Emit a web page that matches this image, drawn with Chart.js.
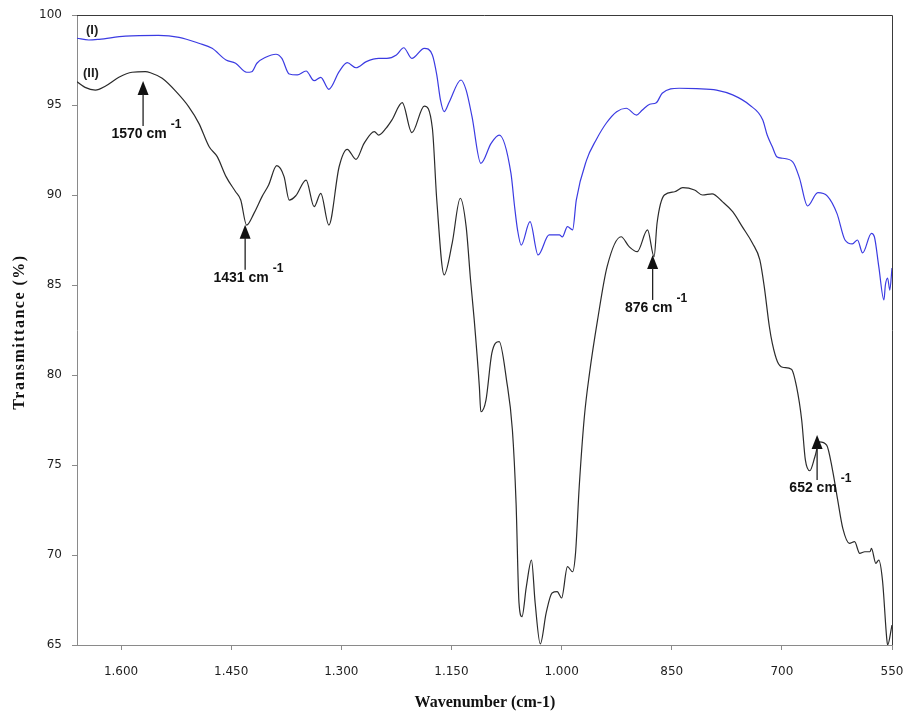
<!DOCTYPE html>
<html>
<head>
<meta charset="utf-8">
<script src="https://cdn.jsdelivr.net/npm/chart.js@4/dist/chart.umd.min.js"></script>
<style>
  html, body { margin: 0; padding: 0; background: #ffffff; }
  #wrap { width: 906px; height: 715px; }
</style>
</head>
<body>
<div id="wrap"><canvas id="ir" width="906" height="715"></canvas></div>
<script>
// FTIR spectra, wavenumber (cm-1) vs transmittance (%)
const wavenumberI = [1660, 1644, 1630, 1594, 1549, 1521, 1494, 1476, 1457, 1444, 1429, 1422, 1415, 1403, 1389, 1381, 1371, 1360, 1348, 1337, 1328, 1317, 1303, 1292, 1280, 1266, 1249, 1238, 1225, 1215, 1204, 1187, 1176, 1170, 1165, 1160, 1153, 1137, 1130, 1122, 1110, 1096, 1085, 1069, 1064, 1060, 1055, 1043, 1032, 1017, 1003, 999, 992, 985, 980, 966, 953, 939, 925, 912, 898, 890, 880, 871, 863, 840, 816, 789, 767, 744, 726, 720, 713, 707, 699, 685, 676, 665, 651, 638, 625, 614, 604, 597, 590, 578, 574, 568, 561, 559, 556, 553, 550];
const transmittanceI = [98.71, 98.61, 98.65, 98.83, 98.87, 98.76, 98.43, 98.15, 97.50, 97.32, 96.82, 96.85, 97.32, 97.65, 97.82, 97.59, 96.72, 96.67, 96.89, 96.35, 96.54, 95.87, 96.85, 97.35, 97.07, 97.41, 97.59, 97.59, 97.78, 98.18, 97.59, 98.15, 97.78, 96.67, 95.28, 94.63, 95.17, 96.39, 95.83, 94.35, 91.76, 92.87, 93.33, 91.21, 89.35, 88.06, 87.22, 88.52, 86.67, 87.78, 87.78, 87.67, 88.24, 88.06, 89.72, 91.94, 93.06, 94.00, 94.63, 94.82, 94.44, 94.72, 95.04, 95.13, 95.65, 95.93, 95.91, 95.83, 95.56, 95.00, 94.17, 93.33, 92.68, 92.13, 92.04, 91.83, 90.94, 89.39, 90.13, 89.94, 88.98, 87.50, 87.28, 87.50, 86.78, 87.87, 87.68, 86.02, 84.17, 85.00, 85.39, 84.72, 85.94];

const wavenumberII = [1660, 1649, 1635, 1621, 1603, 1585, 1567, 1560, 1544, 1525, 1508, 1494, 1480, 1469, 1457, 1444, 1437, 1429, 1419, 1408, 1399, 1388, 1378, 1371, 1362, 1348, 1337, 1328, 1317, 1303, 1292, 1280, 1269, 1255, 1249, 1239, 1231, 1217, 1204, 1187, 1176, 1170, 1160, 1149, 1138, 1130, 1124, 1119, 1112, 1110, 1103, 1095, 1085, 1075, 1067, 1062, 1058, 1054, 1048, 1041, 1036, 1029, 1021, 1013, 1006, 1000, 992, 985, 981, 976, 969, 962, 951, 938, 919, 908, 897, 883, 874, 870, 860, 846, 835, 819, 808, 795, 781, 767, 754, 740, 730, 724, 717, 713, 706, 699, 687, 680, 673, 668, 662, 655, 649, 639, 631, 624, 617, 608, 601, 594, 587, 580, 578, 572, 568, 563, 557, 556, 550];
const transmittanceII = [96.29, 95.98, 95.83, 96.06, 96.54, 96.82, 96.85, 96.79, 96.48, 95.74, 94.91, 93.98, 92.68, 92.13, 91.02, 90.18, 89.72, 88.33, 88.98, 89.91, 90.56, 91.63, 91.02, 89.72, 89.96, 90.83, 89.35, 90.09, 88.33, 91.57, 92.54, 91.98, 92.87, 93.52, 93.33, 93.71, 94.17, 95.13, 93.46, 94.94, 93.71, 89.72, 85.56, 87.33, 89.82, 88.24, 85.28, 83.06, 79.35, 77.96, 78.61, 81.21, 81.85, 79.72, 76.94, 72.89, 67.33, 66.57, 68.24, 69.72, 67.33, 65.06, 66.78, 67.89, 67.96, 67.61, 69.35, 69.07, 70.11, 73.79, 77.68, 80.09, 83.06, 86.02, 87.68, 87.13, 86.85, 88.06, 86.57, 88.43, 90.00, 90.18, 90.41, 90.28, 90.00, 90.06, 89.63, 89.07, 88.24, 87.32, 86.39, 84.91, 82.68, 81.76, 80.74, 80.43, 80.32, 79.35, 77.50, 75.28, 74.68, 75.46, 76.29, 76.11, 74.72, 73.06, 71.48, 70.65, 70.74, 70.09, 70.18, 70.18, 70.37, 69.54, 69.72, 68.61, 65.28, 65.00, 66.11];

const seriesNames = ['(I)', '(II)'];

// axis ticks (labels written with a dot as thousands separator)
const xTickValues = [1600, 1450, 1300, 1150, 1000, 850, 700, 550];
const xTickLabels = ['1.600', '1.450', '1.300', '1.150', '1.000', '850', '700', '550'];

// marked bands of spectrum (II): wavenumber and arrow-tip transmittance
const peakWavenumbers = [1570, 1431, 876, 652];
const peakArrowTips = [96.33, 88.35, 86.67, 76.67];

const toPoints = (xs, ys) => xs.map((x, i) => ({ x: x, y: ys[i] }));

const decorations = {
  id: 'decorations',
  afterDatasetsDraw(chart) {
    const ctx = chart.ctx;
    const area = chart.chartArea;
    const xs = chart.scales.x;
    const ys = chart.scales.y;
    ctx.save();

    // frame top and right
    ctx.strokeStyle = '#3a3a3a';
    ctx.lineWidth = 1;
    ctx.beginPath();
    ctx.moveTo(area.left, area.top + 0.5);
    ctx.lineTo(area.right + 0.5, area.top + 0.5);
    ctx.lineTo(area.right + 0.5, area.bottom);
    ctx.stroke();

    // series tags
    ctx.fillStyle = '#222';
    ctx.font = 'bold 13px "Liberation Sans", Arial, sans-serif';
    ctx.textAlign = 'left';
    ctx.textBaseline = 'middle';
    ctx.fillText(seriesNames[0], area.left + 9, 30);
    ctx.fillText(seriesNames[1], area.left + 6, 73);

    // band markers
    peakWavenumbers.forEach((wn, i) => {
      const px = xs.getPixelForValue(wn);
      const py = ys.getPixelForValue(peakArrowTips[i]);
      ctx.fillStyle = '#111';
      ctx.beginPath();
      ctx.moveTo(px, py);
      ctx.lineTo(px - 5.5, py + 14);
      ctx.lineTo(px + 5.5, py + 14);
      ctx.closePath();
      ctx.fill();
      ctx.strokeStyle = '#222';
      ctx.lineWidth = 1.3;
      ctx.beginPath();
      ctx.moveTo(px, py + 13);
      ctx.lineTo(px, py + 45);
      ctx.stroke();

      const label = wn + ' cm';
      ctx.font = 'bold 14px "Liberation Sans", Arial, sans-serif';
      ctx.textAlign = 'center';
      ctx.textBaseline = 'middle';
      const cx = px - 4, cy = py + 53;
      ctx.fillText(label, cx, cy);
      const w = ctx.measureText(label).width;
      ctx.font = 'bold 12px "Liberation Sans", Arial, sans-serif';
      ctx.textAlign = 'left';
      ctx.fillText('-1', cx + w / 2 + 4, cy - 9);
    });

    // axis titles
    ctx.fillStyle = '#111';
    ctx.font = 'bold 16px "Liberation Serif", "Times New Roman", serif';
    ctx.textAlign = 'center';
    ctx.textBaseline = 'middle';
    ctx.fillText('Wavenumber (cm-1)', 485, 703);
    ctx.save();
    ctx.translate(20, 332);
    ctx.rotate(-Math.PI / 2);
    ctx.letterSpacing = '1.5px';
    ctx.fillText('Transmittance (%)', 0, 0);
    ctx.restore();

    ctx.restore();
  }
};

new Chart(document.getElementById('ir'), {
  type: 'line',
  data: {
    datasets: [
      {
        label: seriesNames[0],
        data: toPoints(wavenumberI, transmittanceI),
        borderColor: '#3b3be2',
        borderWidth: 1.2,
        pointRadius: 0,
        cubicInterpolationMode: 'monotone',
        fill: false
      },
      {
        label: seriesNames[1],
        data: toPoints(wavenumberII, transmittanceII),
        borderColor: '#2b2b2b',
        borderWidth: 1.2,
        pointRadius: 0,
        cubicInterpolationMode: 'monotone',
        fill: false
      }
    ]
  },
  options: {
    responsive: false,
    animation: false,
    layout: { padding: { left: 0, top: 15, right: 14, bottom: 0 } },
    plugins: {
      legend: { display: false },
      tooltip: { enabled: false }
    },
    scales: {
      x: {
        type: 'linear',
        reverse: true,
        min: 550,
        max: 1660,
        afterBuildTicks(axis) {
          axis.ticks = xTickValues.map(v => ({ value: v }));
        },
        afterFit(axis) {
          axis.height = 70;
          axis.paddingLeft = 0;
          axis.paddingRight = 0;
        },
        ticks: {
          autoSkip: false,
          maxRotation: 0,
          padding: 15,
          color: '#1e1e1e',
          font: { family: '"DejaVu Sans", Verdana, sans-serif', size: 12 },
          callback(value) {
            const k = xTickValues.indexOf(value);
            return k >= 0 ? xTickLabels[k] : '';
          }
        },
        grid: { drawOnChartArea: false, tickLength: 5, color: '#8a8a8a' },
        border: { color: '#8a8a8a', width: 1 }
      },
      y: {
        min: 65,
        max: 100,
        afterFit(axis) {
          axis.width = 77;
          axis.paddingTop = 0;
          axis.paddingBottom = 0;
        },
        ticks: {
          stepSize: 5,
          padding: 10,
          color: '#1e1e1e',
          font: { family: '"DejaVu Sans", Verdana, sans-serif', size: 12 }
        },
        grid: { drawOnChartArea: false, tickLength: 5, color: '#8a8a8a' },
        border: { color: '#8a8a8a', width: 1 }
      }
    }
  },
  plugins: [decorations]
});
</script>
</body>
</html>
